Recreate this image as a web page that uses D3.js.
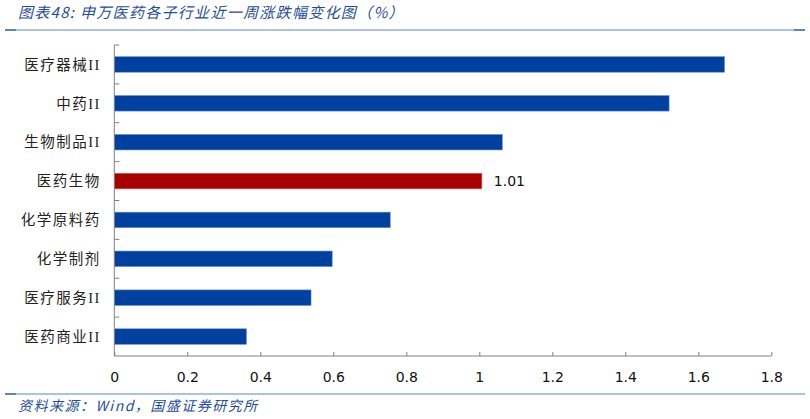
<!DOCTYPE html>
<html><head><meta charset="utf-8">
<script src="https://cdn.jsdelivr.net/npm/d3@7"></script>
<style>body{margin:0;background:#fff}svg{display:block}</style>
</head><body>
<svg id="c" width="810" height="419"></svg>
<script>
const categories = ["医疗器械II","中药II","生物制品II","医药生物","化学原料药","化学制剂","医疗服务II","医药商业II"];
const values = [1.672, 1.520, 1.063, 1.007, 0.756, 0.597, 0.539, 0.362];
const highlight = "医药生物";
const highlightLabel = "1.01";
const xTicks = [0,0.2,0.4,0.6,0.8,1,1.2,1.4,1.6,1.8];
const title = "图表48:  申万医药各子行业近一周涨跌幅变化图（%）";
const source = "资料来源：Wind，国盛证券研究所";

(function(){
const svg = d3.select("#c");
const mLeft = 114.3, mRight = 771.3, mTop = 45, mBottom = 356;
const x = d3.scaleLinear().domain([0,1.8]).range([mLeft,mRight]);
const y = d3.scaleBand().domain(categories).range([mTop,mBottom]).paddingInner(0.6).paddingOuter(0.3);
const yb = d3.scaleBand().domain(categories).range([mTop,mBottom]);

// title & rules
svg.append("text").attr("x",18).attr("y",18).attr("fill","#1f4e9b")
  .attr("font-family","'Noto Sans CJK SC'").attr("font-style","italic").attr("font-size",15)
  .attr("letter-spacing",1.3).text(title);
svg.append("line").attr("x1",5).attr("x2",805).attr("y1",30).attr("y2",30).attr("stroke","#8eaedb").attr("stroke-width",1.5);
svg.append("line").attr("x1",5).attr("x2",16).attr("y1",30).attr("y2",30).attr("stroke","#3f6fb6").attr("stroke-width",1.5);
svg.append("line").attr("x1",794).attr("x2",805).attr("y1",30).attr("y2",30).attr("stroke","#3f6fb6").attr("stroke-width",1.5);

svg.append("line").attr("x1",5).attr("x2",805).attr("y1",394).attr("y2",394).attr("stroke","#8eaedb").attr("stroke-width",1.5);
svg.append("line").attr("x1",5).attr("x2",16).attr("y1",394).attr("y2",394).attr("stroke","#3f6fb6").attr("stroke-width",1.5);
svg.append("text").attr("x",18).attr("y",411).attr("fill","#1f4e9b")
  .attr("font-family","'Noto Sans CJK SC'").attr("font-style","italic").attr("font-size",14)
  .attr("letter-spacing",1.5).text(source);

// bars
svg.append("g").selectAll("rect").data(categories).join("rect")
  .attr("x",x(0)).attr("y",d=>y(d)).attr("height",y.bandwidth())
  .attr("width",(d,i)=>x(values[i])-x(0))
  .attr("fill",d=>d===highlight?"#a80000":"#00409e")
  .attr("stroke",d=>d===highlight?"#d06060":"#6f8fd0").attr("stroke-width",0.6);

svg.append("text").attr("x",x(values[categories.indexOf(highlight)])+12)
  .attr("y",y(highlight)+y.bandwidth()/2).attr("dy","0.36em")
  .attr("font-family","'DejaVu Sans'").attr("font-size",14).attr("fill","#111").text(highlightLabel);

// y axis
const gy = svg.append("g").attr("transform",`translate(${mLeft},0)`);
gy.append("line").attr("x1",0).attr("x2",0).attr("y1",mTop).attr("y2",mBottom).attr("stroke","#808080");
gy.selectAll("line.t").data(categories).join("line").attr("class","t")
  .attr("x1",0).attr("x2",5).attr("y1",d=>yb(d)).attr("y2",d=>yb(d)).attr("stroke","#808080");
gy.selectAll("text").data(categories).join("text")
  .attr("x",-13.5).attr("y",d=>y(d)+y.bandwidth()/2).attr("dy","0.36em").attr("text-anchor","end")
  .attr("letter-spacing",1.5)
  .attr("font-family","'Liberation Serif','Noto Sans CJK SC'").attr("font-size",14.5).attr("fill","#222").text(d=>d);

// x axis
const xAxis = d3.axisBottom(x).tickValues(xTicks).tickSize(-4).tickPadding(16).tickFormat(d=>String(d));
const gx = svg.append("g").attr("transform",`translate(0,${mBottom})`).call(xAxis);
gx.select(".domain").attr("stroke","#808080").attr("d",`M${mLeft},0H${mRight}`);
gx.selectAll(".tick line").attr("stroke","#808080");
gx.selectAll(".tick text").attr("font-family","'DejaVu Sans'").attr("font-size",14).attr("fill","#111");
})();
</script>
</body></html>
